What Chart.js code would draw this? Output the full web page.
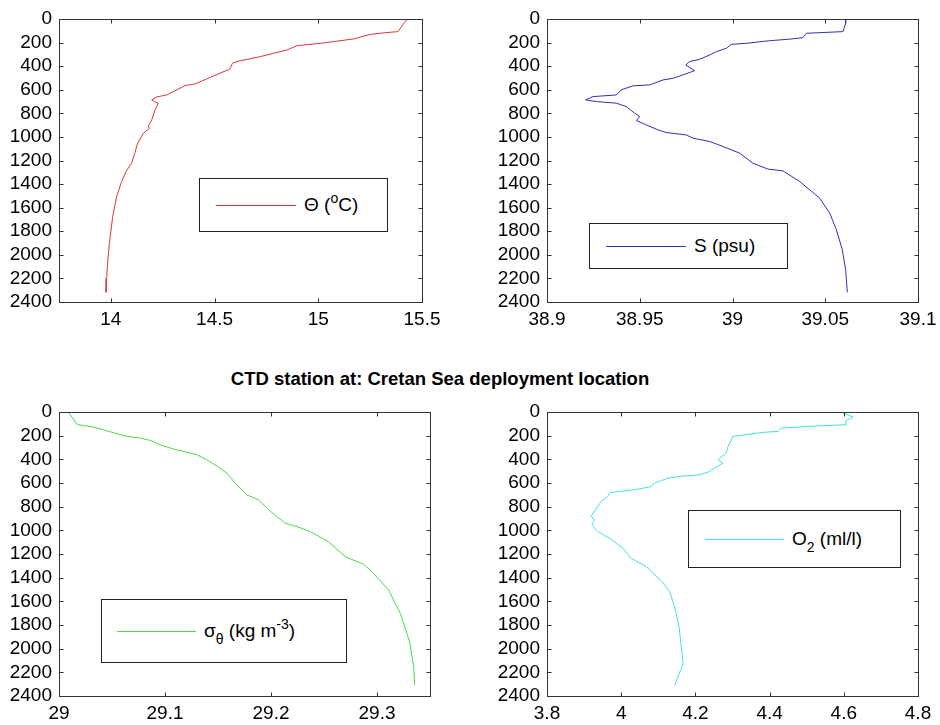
<!DOCTYPE html>
<html>
<head>
<meta charset="utf-8">
<script src="https://cdn.jsdelivr.net/npm/chart.js@4.4.1/dist/chart.umd.min.js"></script>
<style>
html,body{margin:0;padding:0;background:#fff;}
#wrap{position:relative;width:940px;height:725px;overflow:hidden;font-family:"Liberation Sans",Arial,Helvetica,sans-serif;background:#fff;}
canvas{position:absolute;}
.legend{position:absolute;box-sizing:border-box;border:1px solid #222;background:#fff;display:flex;align-items:center;font-size:19px;color:#000;white-space:nowrap;}
.legend .ln{height:0;border-top:1px solid;margin-right:8px;flex:none;}
.legend .sup{position:relative;top:-8px;font-size:14px;}
.legend .sub{position:relative;top:7px;font-size:14px;}
.title{position:absolute;left:0;width:880px;top:368px;line-height:21px;text-align:center;font-weight:bold;font-size:18.5px;color:#000;}
</style>
</head>
<body>
<div id="wrap">
  <canvas id="c1" width="470" height="340" style="left:0px;top:0px;"></canvas>
  <canvas id="c2" width="470" height="340" style="left:470px;top:0px;"></canvas>
  <canvas id="c3" width="470" height="330" style="left:0px;top:395px;"></canvas>
  <canvas id="c4" width="470" height="330" style="left:470px;top:395px;"></canvas>
  <div class="title" id="title"></div>
  <div class="legend" id="lg1" style="left:199px;top:178px;width:189px;height:54px;padding-left:16px;"><span class="ln" style="width:80px;"></span><span>&Theta; (<span class="sup">o</span>C)</span></div>
  <div class="legend" id="lg2" style="left:589px;top:223px;width:199px;height:46px;padding-left:16px;"><span class="ln" style="width:80px;"></span><span>S (psu)</span></div>
  <div class="legend" id="lg3" style="left:101px;top:599px;width:246px;height:64px;padding-left:15px;"><span class="ln" style="width:79px;"></span><span>&sigma;<span class="sub">&theta;</span> (kg m<span class="sup">-3</span>)</span></div>
  <div class="legend" id="lg4" style="left:688px;top:510px;width:213px;height:58px;padding-left:16px;"><span class="ln" style="width:79px;"></span><span>O<span class="sub">2</span> (ml/l)</span></div>
</div>
<script>
// ---------------- DATA ----------------
const titleText = "CTD station at: Cretan Sea deployment location";

const depthTicks = [0, 200, 400, 600, 800, 1000, 1200, 1400, 1600, 1800, 2000, 2200, 2400];

const thetaTicks = [14, 14.5, 15, 15.5];
const salTicks = [38.9, 38.95, 39, 39.05, 39.1];
const sigmaTicks = [29, 29.1, 29.2, 29.3];
const oxyTicks = [3.8, 4, 4.2, 4.4, 4.6, 4.8];

const thetaDepth = [0, 30, 107, 115, 130, 150, 169, 192, 206, 226, 263, 291, 319, 361, 375, 400, 426, 483, 551, 565, 615, 644, 661, 686, 700, 714, 771, 856, 906, 930, 968, 1059, 1140, 1223, 1293, 1378, 1505, 1674, 1900, 2098, 2200, 2318];
const thetaValues = [15.431, 15.415, 15.384, 15.33, 15.251, 15.21, 15.17, 15.074, 15.011, 14.897, 14.849, 14.784, 14.72, 14.607, 14.586, 14.58, 14.572, 14.495, 14.406, 14.358, 14.302, 14.27, 14.221, 14.197, 14.21, 14.229, 14.213, 14.197, 14.181, 14.185, 14.157, 14.128, 14.115, 14.1, 14.073, 14.052, 14.028, 14.009, 13.993, 13.983, 13.98, 13.977];

const salDepth = [0, 37, 107, 121, 158, 172, 184, 206, 215, 248, 277, 305, 342, 361, 390, 438, 474, 503, 517, 559, 567, 601, 644, 658, 686, 700, 714, 743, 799, 827, 861, 898, 940, 963, 983, 1011, 1039, 1081, 1138, 1223, 1273, 1288, 1378, 1519, 1646, 1787, 1957, 2126, 2318];
const salValues = [39.061, 39.061, 39.0596, 39.0398, 39.038, 39.030, 39.020, 39.0075, 38.9994, 38.9967, 38.9913, 38.9877, 38.9823, 38.9769, 38.9748, 38.9796, 38.9733, 38.9679, 38.9625, 38.9553, 38.9464, 38.94, 38.9374, 38.9248, 38.9208, 38.9266, 38.9374, 38.9428, 38.9473, 38.950, 38.9482, 38.9535, 38.9598, 38.9643, 38.9751, 38.9787, 38.9877, 38.9949, 39.0039, 39.011, 39.0191, 39.0272, 39.0362, 39.047, 39.0524, 39.056, 39.0592, 39.061, 39.0619];

const sigmaDepth = [0, 107, 121, 150, 184, 206, 220, 240, 277, 313, 333, 361, 404, 455, 517, 601, 700, 743, 850, 940, 968, 1011, 1096, 1223, 1287, 1364, 1505, 1703, 1943, 2154, 2310];
const sigmaValues = [29.0088, 29.0173, 29.0293, 29.0419, 29.0545, 29.064, 29.0765, 29.0859, 29.0954, 29.108, 29.1174, 29.13, 29.1394, 29.1489, 29.1583, 29.1662, 29.1772, 29.1882, 29.2008, 29.2134, 29.2244, 29.237, 29.2543, 29.2701, 29.2874, 29.2968, 29.311, 29.322, 29.3308, 29.3346, 29.3355];

const oxyDepth = [8, 42, 79, 107, 121, 136, 164, 172, 206, 268, 291, 347, 390, 404, 432, 474, 503, 531, 545, 559, 601, 630, 652, 681, 714, 757, 878, 912, 954, 1011, 1067, 1152, 1237, 1307, 1364, 1426, 1519, 1646, 1816, 1985, 2126, 2196, 2310];
const oxyValues = [4.598, 4.625, 4.605, 4.607, 4.508, 4.432, 4.423, 4.382, 4.301, 4.292, 4.288, 4.283, 4.265, 4.261, 4.274, 4.252, 4.238, 4.211, 4.153, 4.126, 4.09, 4.081, 4.045, 3.969, 3.964, 3.946, 3.919, 3.928, 3.921, 3.937, 3.969, 4.005, 4.027, 4.068, 4.086, 4.108, 4.131, 4.144, 4.156, 4.162, 4.167, 4.158, 4.144];

const seriesLabels = ["\u0398 (\u00B0C)", "S (psu)", "\u03C3\u03B8 (kg m-3)", "O2 (ml/l)"];
const seriesColors = ["#d43a3a", "#3030b4", "#48dc48", "#44e0e4"];

// ---------------- LAYOUT ----------------
const FONT = '"Liberation Sans", Arial, Helvetica, sans-serif';
const panels = [
  {id:'c1', lg:'lg1', cv:{x:0,y:0,w:470,h:340},   ar:{l:59,t:19,r:422,b:302},  depth:thetaDepth, values:thetaValues, xmin:13.75, xmax:15.5,  xticks:thetaTicks, k:0},
  {id:'c2', lg:'lg2', cv:{x:470,y:0,w:470,h:340}, ar:{l:547,t:19,r:918,b:302}, depth:salDepth,   values:salValues,   xmin:38.9,  xmax:39.1,  xticks:salTicks,   k:1},
  {id:'c3', lg:'lg3', cv:{x:0,y:395,w:470,h:330}, ar:{l:59,t:412,r:430,b:696}, depth:sigmaDepth, values:sigmaValues, xmin:29,    xmax:29.35, xticks:sigmaTicks, k:2},
  {id:'c4', lg:'lg4', cv:{x:470,y:395,w:470,h:330},ar:{l:547,t:412,r:918,b:696},depth:oxyDepth,  values:oxyValues,   xmin:3.8,   xmax:4.8,   xticks:oxyTicks,   k:3}
];

document.getElementById('title').textContent = titleText;

const fmt = v => String(Math.round(v * 10000) / 10000);

const boxPlugin = {
  id: 'matlabBox',
  afterDraw(chart) {
    const {ctx, chartArea: a, scales} = chart;
    const L = Math.round(a.left) + 0.5, R = Math.round(a.right) + 0.5;
    const T = Math.round(a.top) + 0.5, B = Math.round(a.bottom) + 0.5;
    const len = 4;
    ctx.save();
    ctx.strokeStyle = '#333';
    ctx.lineWidth = 1;
    ctx.beginPath();
    scales.x.ticks.forEach(t => {
      const px = Math.round(scales.x.getPixelForValue(t.value)) + 0.5;
      ctx.moveTo(px, B); ctx.lineTo(px, B - len);
      ctx.moveTo(px, T); ctx.lineTo(px, T + len);
    });
    scales.y.ticks.forEach(t => {
      const py = Math.round(scales.y.getPixelForValue(t.value)) + 0.5;
      ctx.moveTo(L, py); ctx.lineTo(L + len, py);
      ctx.moveTo(R, py); ctx.lineTo(R - len, py);
    });
    ctx.stroke();
    ctx.strokeRect(L, T, R - L, B - T);
    ctx.restore();
  }
};

panels.forEach(p => {
  const c = p.cv, a = p.ar;
  const color = seriesColors[p.k];
  document.querySelector('#' + p.lg + ' .ln').style.borderTopColor = color;
  new Chart(document.getElementById(p.id).getContext('2d'), {
    type: 'scatter',
    data: {
      datasets: [{
        label: seriesLabels[p.k],
        data: p.depth.map((d, i) => ({x: p.values[i], y: d})),
        showLine: true,
        borderColor: color,
        backgroundColor: color,
        borderWidth: 1,
        pointRadius: 0,
        pointHoverRadius: 0,
        fill: false,
        tension: 0
      }]
    },
    options: {
      responsive: false,
      animation: false,
      events: [],
      layout: {padding: {left: 0, top: a.t - c.y, right: (c.x + c.w) - a.r, bottom: 0}},
      plugins: {legend: {display: false}, tooltip: {enabled: false}, title: {display: false}},
      scales: {
        x: {
          type: 'linear', position: 'bottom', min: p.xmin, max: p.xmax,
          grid: {display: false, drawTicks: false},
          border: {display: false},
          afterBuildTicks: s => { s.ticks = p.xticks.map(v => ({value: v})); },
          afterFit: s => { s.height = (c.y + c.h) - a.b; s.paddingLeft = 0; s.paddingRight = 0; },
          ticks: {padding: 6, maxRotation: 0, minRotation: 0, autoSkip: false, color: '#000',
                  font: {size: 19, family: FONT}, callback: v => fmt(v)}
        },
        y: {
          type: 'linear', position: 'left', reverse: true, min: 0, max: 2400,
          grid: {display: false, drawTicks: false},
          border: {display: false},
          afterBuildTicks: s => { s.ticks = depthTicks.map(v => ({value: v})); },
          afterFit: s => { s.width = a.l - c.x; s.paddingTop = 0; s.paddingBottom = 0; },
          ticks: {padding: 7, autoSkip: false, color: '#000',
                  font: {size: 19, family: FONT}, callback: v => fmt(v)}
        }
      }
    },
    plugins: [boxPlugin]
  });
});
</script>
</body>
</html>
